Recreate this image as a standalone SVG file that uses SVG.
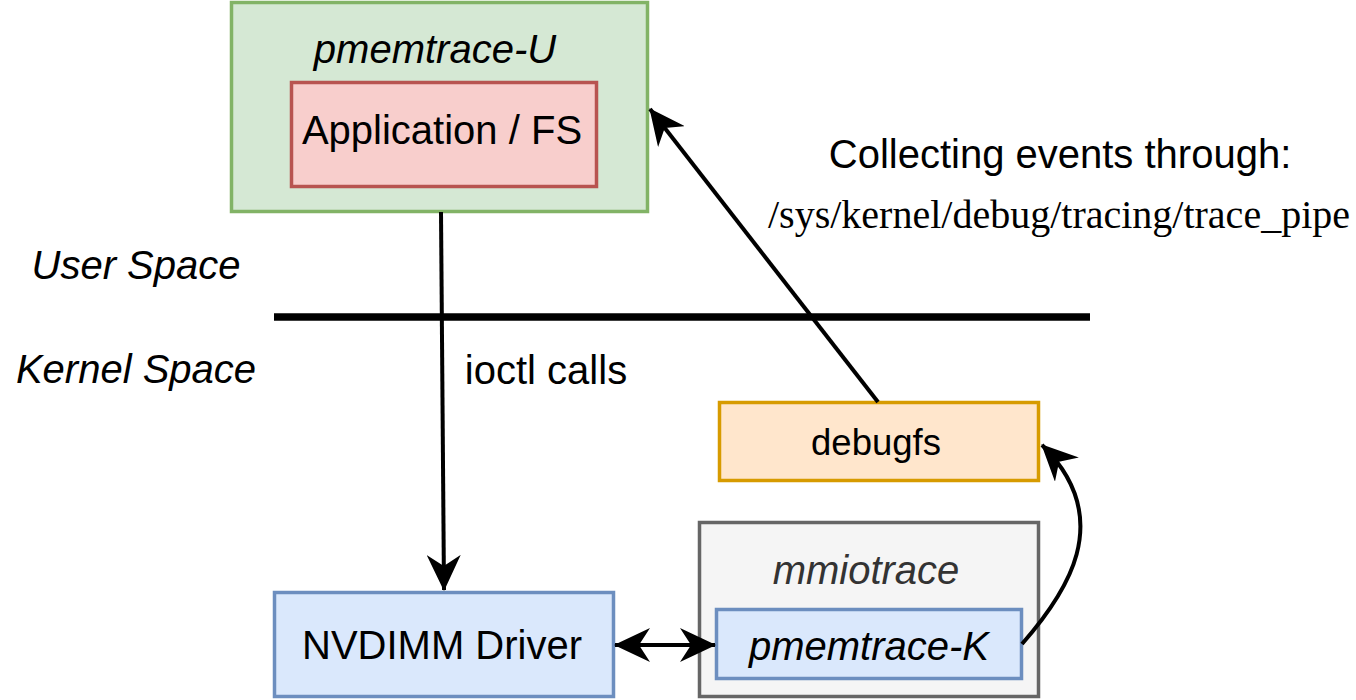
<svg xmlns="http://www.w3.org/2000/svg" width="1356" height="700" viewBox="0 0 1356 700">
<style>
text{font-family:"Liberation Sans",Arial,sans-serif;fill:#000}
.it{font-style:italic}
.box{stroke-width:3.5}
.conn{fill:none;stroke:#000;stroke-width:4}
</style>
<defs>
<marker id="arr" viewBox="0 0 36 34" refX="35" refY="17" markerWidth="36" markerHeight="34" markerUnits="userSpaceOnUse" orient="auto-start-reverse">
<path d="M0,0 L36,17 L0,34 L11,17 Z" fill="#000"/>
</marker>
</defs>
<rect width="1356" height="700" fill="#fff"/>
<g id="pmemtrace-u">
<rect class="box" x="231.5" y="2.5" width="416" height="209" fill="#d5e8d4" stroke="#82b366"/>
<text class="it" x="435" y="63" font-size="40" text-anchor="middle">pmemtrace-U</text>
</g>
<g id="application">
<rect class="box" x="291.5" y="82.5" width="305" height="104" fill="#f8cecc" stroke="#b85450"/>
<text x="442" y="144" font-size="40" text-anchor="middle">Application / FS</text>
</g>
<g id="divider">
<line x1="274" y1="317" x2="1090" y2="317" stroke="#000" stroke-width="7.5"/>
<text class="it" x="136" y="279" font-size="40" text-anchor="middle">User Space</text>
<text class="it" x="136" y="383" font-size="40" text-anchor="middle">Kernel Space</text>
</g>
<g id="debugfs">
<rect class="box" x="719.5" y="402.5" width="319" height="78" fill="#ffe6cc" stroke="#d79b00"/>
<text x="876" y="455" font-size="36.5" text-anchor="middle">debugfs</text>
</g>
<g id="mmiotrace">
<rect class="box" x="699.5" y="522.5" width="339" height="174" fill="#f5f5f5" stroke="#666666"/>
<text class="it" x="866" y="584" font-size="40" text-anchor="middle" style="fill:#333333">mmiotrace</text>
</g>
<g id="pmemtrace-k">
<rect class="box" x="716.5" y="609.5" width="305" height="69" fill="#dae8fc" stroke="#6c8ebf"/>
<text class="it" x="869" y="660" font-size="40" text-anchor="middle">pmemtrace-K</text>
</g>
<g id="nvdimm">
<rect class="box" x="274.5" y="592.5" width="339" height="104" fill="#dae8fc" stroke="#6c8ebf"/>
<text x="442" y="659" font-size="40" text-anchor="middle">NVDIMM Driver</text>
</g>
<g id="connectors">
<line class="conn" x1="441" y1="212" x2="444" y2="590" marker-end="url(#arr)"/>
<line class="conn" x1="878" y1="402" x2="650" y2="109" marker-end="url(#arr)"/>
<line class="conn" x1="615" y1="645" x2="715" y2="645" marker-start="url(#arr)" marker-end="url(#arr)"/>
<path class="conn" d="M1022,644 C1065,595 1118,520 1042,445" marker-end="url(#arr)"/>
</g>
<g id="labels">
<text x="546" y="384" font-size="40" text-anchor="middle">ioctl calls</text>
<text x="1060" y="168" font-size="40" text-anchor="middle">Collecting events through:</text>
<text x="1059" y="228" font-size="40" text-anchor="middle" style="font-family:'Liberation Serif','Times New Roman',serif">/sys/kernel/debug/tracing/trace_pipe</text>
</g>
</svg>
